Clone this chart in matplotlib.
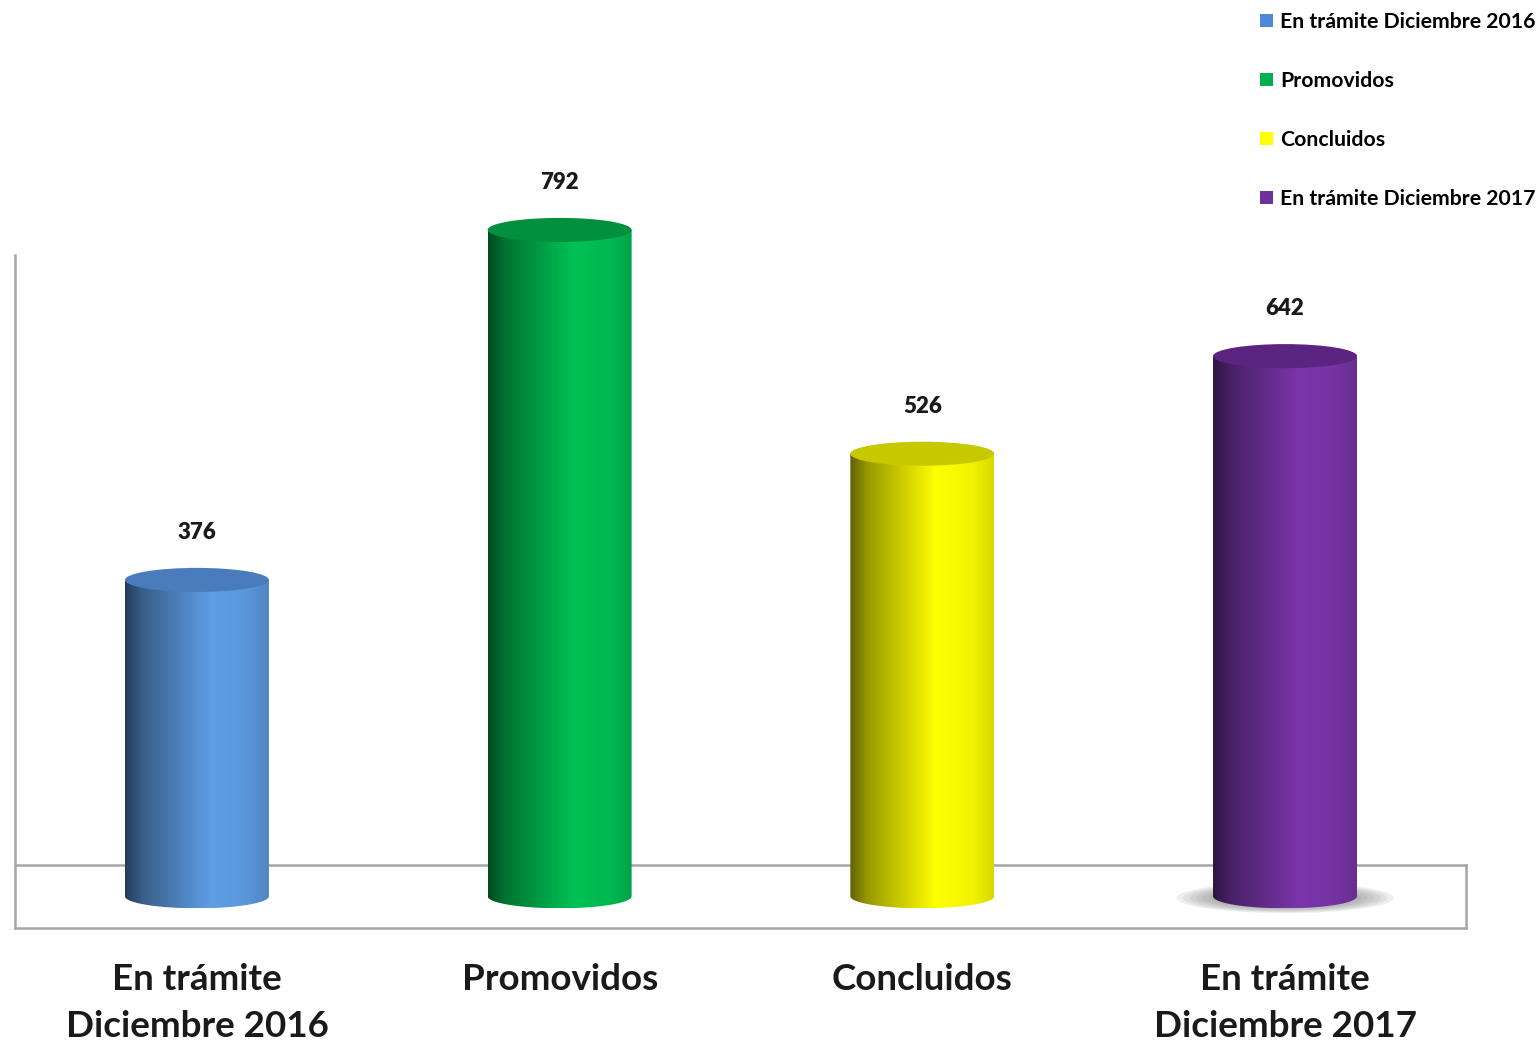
import numpy as np
import matplotlib.pyplot as plt
from matplotlib.patches import Ellipse, Polygon, Patch

## values
categorias = ["En trámite\nDiciembre 2016", "Promovidos", "Concluidos", "En trámite\nDiciembre 2017"]
leyenda = ["En trámite Diciembre 2016", "Promovidos", "Concluidos", "En trámite Diciembre 2017"]
valores = [376, 792, 526, 642]

## colours: body peak, top cap, legend square
color_cuerpo = [(0.37, 0.62, 0.90), (0.0, 0.76, 0.33), (1.0, 1.0, 0.0), (0.48, 0.21, 0.67)]
color_tapa = ["#4a7cbd", "#00903e", "#c8c800", "#5a2480"]
color_leyenda = ["#4f88d6", "#00b050", "#ffff00", "#7030a0"]

plt.rcParams['font.family'] = ['Lato', 'DejaVu Sans']

fig = plt.figure(figsize=(15.4, 10.44), dpi=100)
ax = fig.add_axes([0, 0, 1, 1])
ax.axis('off')

XLIM = (-0.543, 3.703)
YLIM = (-175.6, 1065.3)

half_w = 0.1985   # half width of a cylinder (x units)
ry = 14.3         # half height of the ellipses (value units)


def cylinder(xc, top, base, cap):
    t = np.linspace(0, 1, 256)
    f = np.interp(t, [0, 0.12, 0.6, 0.85, 1], [0.38, 0.6, 1.0, 0.95, 0.85])
    img = np.clip(np.array(base)[None, None, :] * f[None, :, None], 0, 1)
    im = ax.imshow(img, extent=[xc - half_w, xc + half_w, -ry, top],
                   aspect='auto', interpolation='bilinear', zorder=3)
    th = np.linspace(np.pi, 2 * np.pi, 80)
    verts = [(xc - half_w, top)]
    verts += list(zip(xc + half_w * np.cos(th), ry * np.sin(th)))
    verts += [(xc + half_w, top)]
    clip = Polygon(verts, closed=True, facecolor='none', edgecolor='none', transform=ax.transData)
    ax.add_patch(clip)
    im.set_clip_path(clip)
    ax.add_patch(Ellipse((xc, top), 2 * half_w, 2 * ry, facecolor=cap, edgecolor='none', zorder=4))


# floor and wall
gris = "#a6a6a6"
ax.plot([-0.502, -0.502], [762, -37.6], color=gris, lw=1.8, zorder=1)
ax.plot([-0.502, 3.499], [37.2, 37.2], color=gris, lw=1.8, zorder=1)
ax.plot([-0.502, 3.499], [-37.6, -37.6], color=gris, lw=1.8, zorder=1)
ax.plot([3.499, 3.499], [37.2, -37.6], color=gris, lw=1.8, zorder=1)

# soft shadow under the last cylinder
for k in range(10):
    s = 1 - k * 0.06
    ax.add_patch(Ellipse((3, -2), 0.60 * s, 36 * s, facecolor='#6f6f6f', alpha=0.11,
                         edgecolor='none', zorder=2))

for i, v in enumerate(valores):
    cylinder(i, v, color_cuerpo[i], color_tapa[i])
    ax.annotate(str(v), (i, v), xytext=(0, 34), textcoords='offset points',
                ha='center', va='center', fontsize=16, fontweight='heavy', color='#1a1a1a')
    ax.text(i, -79, categorias[i], ha='center', va='top', fontsize=26.5,
            fontweight='bold', color='#1a1a1a', linespacing=1.52)

ax.set_xlim(*XLIM)
ax.set_ylim(*YLIM)
ax.set_aspect('auto')

handles = [Patch(facecolor=c, edgecolor='none') for c in color_leyenda]
fig.legend(handles, leyenda, loc='upper right', bbox_to_anchor=(1.0095, 1.007),
           frameon=False, prop={'weight': 'bold', 'size': 15.3},
           handlelength=0.6, handleheight=0.6, handletextpad=0.35, labelspacing=1.84)

fig.savefig("out.png", dpi=100)
